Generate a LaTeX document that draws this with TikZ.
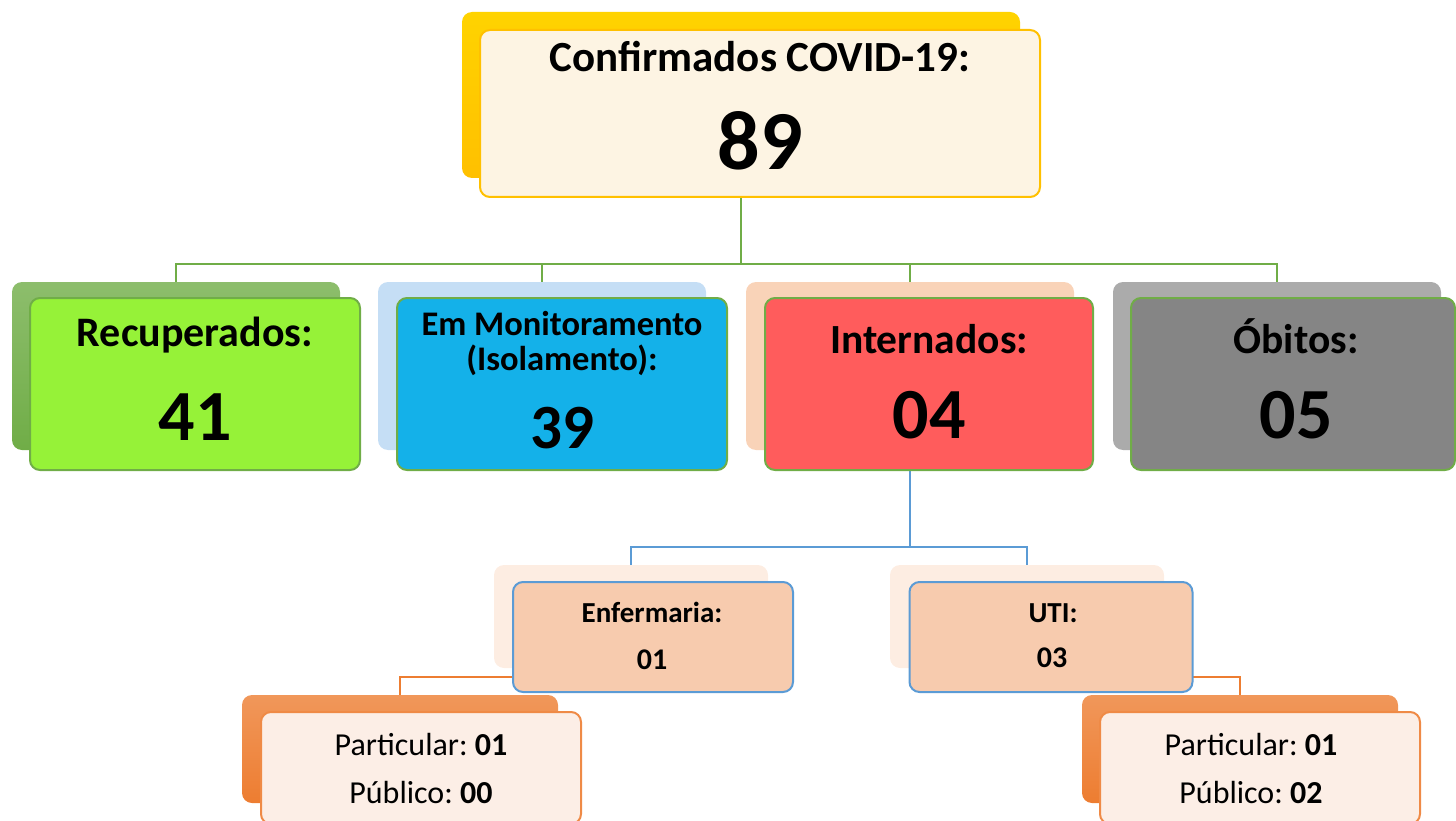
\documentclass[tikz,border=0pt]{standalone}
\usepackage{fontspec}
\setmainfont{Carlito}
\frenchspacing
\definecolor{gold}{HTML}{FFC000}
\definecolor{cream}{HTML}{FDF4E3}
\definecolor{lgreen}{HTML}{70AD47}
\definecolor{brgreen}{RGB}{150,242,56}
\definecolor{palblue}{HTML}{C5DEF5}
\definecolor{cyanb}{HTML}{14B1E9}
\definecolor{peach}{HTML}{F9D3B8}
\definecolor{redb}{HTML}{FF5C5C}
\definecolor{lgray}{HTML}{ABABAB}
\definecolor{dgray}{HTML}{858585}
\definecolor{lblue}{HTML}{5B9BD5}
\definecolor{salmon}{HTML}{F7CBAE}
\definecolor{fpeach}{HTML}{FDEDE2}
\definecolor{orng}{HTML}{ED7D31}
\definecolor{fororng}{HTML}{FCEEE6}
\newcommand{\fs}[1]{\fontsize{#1}{#1}\selectfont}
\begin{document}
\begin{tikzpicture}[x=1pt,y=-1pt,
		back/.style={rounded corners=10pt,inner sep=0pt},
		front/.style={rounded corners=10pt,inner sep=0pt,line width=2pt},
		txt/.style={anchor=base,inner sep=0pt},
		lnG/.style={lgreen,line width=2pt},
		lnB/.style={lblue,line width=2pt},
		lnO/.style={orng,line width=2pt}]
		\useasboundingbox (0,0) rectangle (1456,821);
		\clip (0,0) rectangle (1456,821);
		
		\coordinate (jG) at (741,264);
		\coordinate (jB) at (910,547);
		\coordinate (jO1) at (631,677);
		\coordinate (jO2) at (1027,677);
		
		\node[back,minimum width=558,minimum height=166,top color=gold!70!yellow,bottom color=gold] (confB) at (741,95) {};
		\node[back,minimum width=328,minimum height=168,top color=lgreen!80,bottom color=lgreen] (recB) at (176,366) {};
		\node[back,minimum width=328,minimum height=168,fill=palblue] (monB) at (542,366) {};
		\node[back,minimum width=328,minimum height=168,fill=peach] (intB) at (910,366) {};
		\node[back,minimum width=328,minimum height=168,fill=lgray] (obiB) at (1277,366) {};
		\node[back,minimum width=274,minimum height=103,fill=fpeach] (enfB) at (631,616.5) {};
		\node[back,minimum width=274,minimum height=103,fill=fpeach] (utiB) at (1027,616.5) {};
		\node[back,minimum width=316,minimum height=108,top color=orng!80,bottom color=orng] (partAB) at (400,749) {};
		\node[back,minimum width=316,minimum height=108,top color=orng!80,bottom color=orng] (partBB) at (1240,749) {};
		
		\draw[lnG] (confB.south) -- (jG);
		\foreach \c in {recB,monB,intB,obiB}
			\draw[lnG] (jG) -| (\c.north);
		\draw[lnB] (intB.south) -- (jB);
		\draw[lnB] (jB) -| (enfB.north);
		\draw[lnB] (jB) -| (utiB.north);
		\draw[lnO] (enfB.south) -- (jO1) -| (partAB.north);
		\draw[lnO] (utiB.south) -- (jO2) -| (partBB.north);
		
		\node[front,draw=gold,fill=cream,minimum width=560,minimum height=167] (conf) at (760,113.5) {};
		\node[front,draw=lgreen,fill=brgreen,minimum width=330,minimum height=172] (rec) at (195,384) {};
		\node[front,draw=lgreen,fill=cyanb,minimum width=330,minimum height=172] (mon) at (562,384) {};
		\node[front,draw=lgreen,fill=redb,minimum width=328,minimum height=172] (int) at (929,384) {};
		\node[front,draw=lgreen,fill=dgray,minimum width=324,minimum height=172] (obi) at (1293,384) {};
		\node[front,draw=lblue,fill=salmon,minimum width=280,minimum height=110] (enf) at (653,637) {};
		\node[front,draw=lblue,fill=salmon,minimum width=283,minimum height=110] (uti) at (1051,637) {};
		\node[front,draw=orng!90,fill=fororng,minimum width=320,minimum height=112] (partA) at (421,768) {};
		\node[front,draw=orng!90,fill=fororng,minimum width=320,minimum height=112] (partB) at (1260,768) {};
		
		\node[txt] (confT) at (760,72) {\fs{43}\bfseries Confirmados COVID-19:};
		\node[txt] (confN) at (760,170) {\fs{84}\bfseries 89};
		\node[txt] (recT) at (195,346) {\fs{42}\bfseries Recuperados:};
		\node[txt] (recN) at (195,440) {\fs{72}\bfseries 41};
		\node[txt] (monT) at (562,335) {\fs{34.5}\bfseries Em Monitoramento};
		\node[txt] (monU) at (562,370) {\fs{34.5}\bfseries (Isolamento):};
		\node[txt] (monN) at (562,448) {\fs{63}\bfseries 39};
		\node[txt] (intT) at (929,353) {\fs{41.5}\bfseries Internados:};
		\node[txt] (intN) at (929,438) {\fs{72}\bfseries 04};
		\node[txt] (obiT) at (1296,353) {\fs{41.5}\bfseries Óbitos:};
		\node[txt] (obiN) at (1296,438) {\fs{72}\bfseries 05};
		\node[txt] (enfT) at (652,622) {\fs{29}\bfseries Enfermaria:};
		\node[txt] (enfN) at (652,669) {\fs{30}\bfseries 01};
		\node[txt] (utiT) at (1053,622) {\fs{29}\bfseries UTI:};
		\node[txt] (utiN) at (1052,667) {\fs{30}\bfseries 03};
		\node[txt] (partAT) at (421,755) {\fs{32}Particular: \textbf{01}};
		\node[txt] (partAU) at (421,803) {\fs{32}Público: \textbf{00}};
		\node[txt] (partBT) at (1251,755) {\fs{32}Particular: \textbf{01}};
		\node[txt] (partBU) at (1251,803) {\fs{32}Público: \textbf{02}};
\end{tikzpicture}
\end{document}
